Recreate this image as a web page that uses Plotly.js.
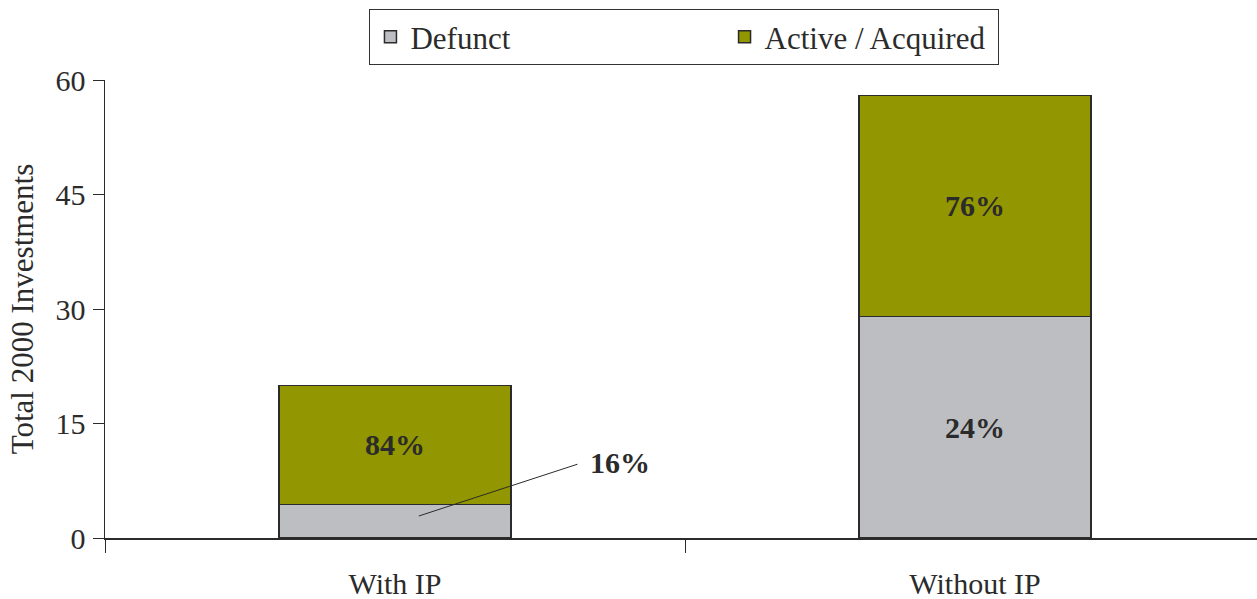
<!DOCTYPE html>
<html>
<head>
<meta charset="utf-8">
<script src="https://cdn.plot.ly/plotly-3.0.1.min.js"></script>
<style>html,body{margin:0;padding:0;background:#fff;}#chart{width:1257px;height:599px;}</style>
</head>
<body>
<div id="chart"></div>
<script>
const categories = ["With IP", "Without IP"];
const defunct = [4.4, 29];
const active = [15.6, 29];
const defunctLabels = ["", "24%"];
const activeLabels = ["84%", "76%"];
const calloutLabel = "16%";
const yTicks = [0, 15, 30, 45, 60];
const seriesNames = ["Defunct", "Active / Acquired"];

const FONT = "Liberation Serif, Times New Roman, serif";
const lineCol = "#2b2b2b";
const pad = "\u00a0".repeat(27);

const traces = [
  {
    type: "bar", name: seriesNames[0] + pad, x: categories, y: defunct,
    text: defunctLabels, textposition: "inside", insidetextanchor: "middle",
    textfont: {family: FONT, size: 30, color: "#2b2b2b", weight: "bold"},
    marker: {color: "#bdbec2", line: {color: lineCol, width: 1.5}},
    width: 0.4, hoverinfo: "skip"
  },
  {
    type: "bar", name: seriesNames[1] + "\u00a0", x: categories, y: active,
    text: activeLabels, textposition: "inside", insidetextanchor: "middle",
    textfont: {family: FONT, size: 30, color: "#2b2b2b", weight: "bold"},
    marker: {color: "#929600", line: {color: lineCol, width: 1.5}},
    width: 0.4, hoverinfo: "skip"
  }
];

const layout = {
  width: 1257, height: 599,
  barmode: "stack",
  margin: {l: 105, r: 0, t: 80, b: 61, pad: 0},
  paper_bgcolor: "#fff", plot_bgcolor: "#fff",
  font: {family: FONT, size: 30, color: "#2b2b2b"},
  showlegend: true,
  legend: {
    orientation: "h", x: 0.503, xanchor: "center", y: 1.155, yanchor: "top",
    bordercolor: "#333", borderwidth: 1,
    font: {family: FONT, size: 31, color: "#2b2b2b"},
    traceorder: "normal"
  },
  xaxis: {
    type: "category", range: [-0.5, 1.4862], automargin: false,
    showline: true, linecolor: lineCol, linewidth: 1.5,
    ticks: "outside", tickson: "boundaries", ticklen: 13, tickcolor: lineCol, tickwidth: 1,
    ticklabelstandoff: 18,
    tickfont: {family: FONT, size: 30, color: "#2b2b2b"},
    showgrid: false, zeroline: false, fixedrange: true
  },
  yaxis: {
    range: [0, 60], automargin: false,
    tickvals: yTicks, ticktext: yTicks.map(String),
    showline: true, linecolor: lineCol, linewidth: 1.5,
    ticks: "outside", ticklen: 11, tickcolor: lineCol, tickwidth: 1,
    ticklabelstandoff: 1,
    tickfont: {family: FONT, size: 30, color: "#2b2b2b"},
    title: {text: "Total 2000 Investments", font: {family: FONT, size: 31, color: "#2b2b2b"}, standoff: 12},
    showgrid: false, zeroline: false, fixedrange: true
  },
  annotations: [
    {
      x: 0.041, y: 2.88, xref: "x", yref: "y",
      ax: 0.3155, ay: 9.69, axref: "x", ayref: "y",
      text: " ", showarrow: true, arrowhead: 0, arrowwidth: 1,
      arrowcolor: "#2b2b2b", borderpad: 0,
      font: {family: FONT, size: 1, color: "#2b2b2b"}
    },
    {
      x: 0.388, y: 9.83, xref: "x", yref: "y",
      text: "<b>" + calloutLabel + "</b>", showarrow: false,
      font: {family: FONT, size: 30, color: "#2b2b2b"}
    }
  ]
};

Plotly.newPlot("chart", traces, layout, {displayModeBar: false, staticPlot: true});
</script>
</body>
</html>
